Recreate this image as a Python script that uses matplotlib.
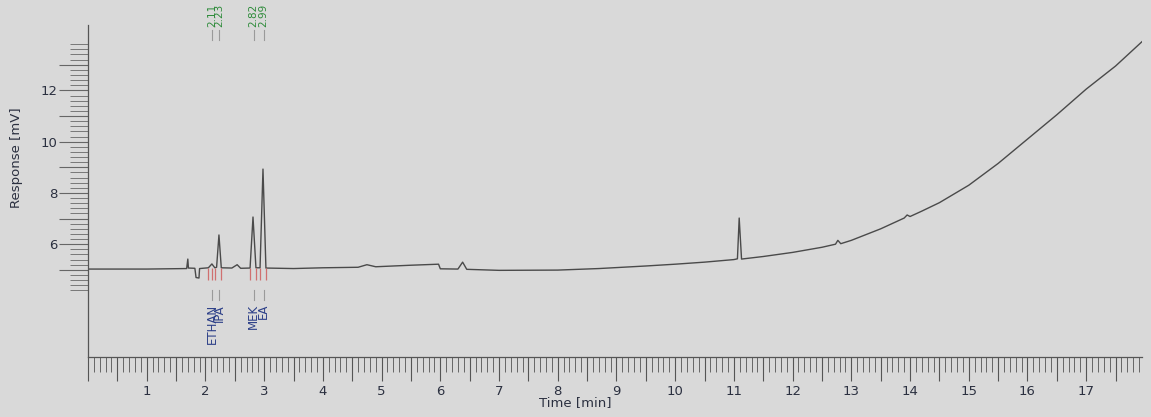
import numpy as np
import matplotlib
matplotlib.use("Agg")
import matplotlib.pyplot as plt
from matplotlib.ticker import FixedLocator, MultipleLocator

# chromatogram trace (time in min, response in mV)
time_min = [0.0, 1.0, 1.68, 1.70, 1.71, 1.82, 1.84, 1.89, 1.90, 2.05, 2.11, 2.16,
            2.19, 2.23, 2.27, 2.45, 2.54, 2.60, 2.76, 2.81, 2.86, 2.93, 2.98, 3.03,
            3.5, 4.0, 4.6, 4.75, 4.9, 5.5, 5.97, 6.0, 6.3, 6.38, 6.45, 7.0, 8.0,
            8.7, 9.5, 10.0, 10.5, 11.0, 11.06, 11.09, 11.13, 11.5, 12.0, 12.5,
            12.73, 12.77, 12.82, 13.0, 13.5, 13.9, 13.95, 14.0, 14.2, 14.5, 15.0,
            15.5, 16.0, 16.5, 17.0, 17.5, 17.95]
response_mv = [5.03, 5.03, 5.05, 5.42, 5.07, 5.06, 4.70, 4.68, 5.05, 5.08, 5.23, 5.08,
               5.10, 6.36, 5.08, 5.07, 5.20, 5.06, 5.07, 7.06, 5.08, 5.08, 8.93, 5.07,
               5.05, 5.08, 5.10, 5.20, 5.12, 5.18, 5.22, 5.04, 5.03, 5.30, 5.02, 4.98, 4.99,
               5.05, 5.15, 5.22, 5.30, 5.40, 5.43, 7.02, 5.42, 5.52, 5.68, 5.88,
               6.00, 6.15, 6.02, 6.15, 6.60, 7.02, 7.14, 7.08, 7.29, 7.62, 8.30,
               9.15, 10.10, 11.05, 12.05, 12.95, 13.90]

# integrated peaks
peak_rt = [2.11, 2.23, 2.82, 2.99]
peak_rt_labels = ["2.11", "2.23", "2.82", "2.99"]
peak_names = ["ETHAN", "IPA", "MEK", "EA"]
peak_bounds = [2.05, 2.12, 2.17, 2.26, 2.76, 2.86, 2.93, 3.03]

bg = "#d9d9d9"
txt = "#2b3040"

fig = plt.figure(figsize=(11.51, 4.17), dpi=100, facecolor=bg)
ax = fig.add_axes([88 / 1151, 60 / 417, 1054 / 1151, 332 / 417], facecolor=bg)

ax.plot(time_min, response_mv, color="#4a4a4a", lw=1.0)

# peak start/end markers
ax.vlines(peak_bounds, 4.62, 5.06, color="#d07070", lw=0.9)

xt = ax.get_xaxis_transform()
for rt, lab, name in zip(peak_rt, peak_rt_labels, peak_names):
    ax.text(rt, 1.065, lab, rotation=90, ha="center", va="top", fontsize=7.5,
            color="#2e8b3a", transform=xt, clip_on=False)
    ax.plot([rt, rt], [0.955, 0.985], color="#9a9a9a", lw=0.8, transform=xt, clip_on=False)
    ax.plot([rt, rt], [0.172, 0.202], color="#9a9a9a", lw=0.8, transform=xt)
    ax.text(rt, 0.160, name, rotation=90, ha="center", va="top", fontsize=8.5,
            color="#2c3f88", transform=xt)

ax.set_xlim(0, 17.95)
ax.set_ylim(1.6, 14.55)

for s in ["top", "right"]:
    ax.spines[s].set_visible(False)
for s in ["left", "bottom"]:
    ax.spines[s].set_color("#555555")
    ax.spines[s].set_linewidth(0.9)

# x ticks: labels on whole minutes, long ticks every 0.5, short every 0.1
ax.xaxis.set_major_locator(MultipleLocator(0.5))
ax.xaxis.set_minor_locator(MultipleLocator(0.1))
ax.xaxis.set_major_formatter(lambda v, p: f"{v:.0f}" if abs(v - round(v)) < 1e-6 and v > 0 else "")
ax.tick_params(axis="x", which="major", length=17, width=0.8, color="#555555",
               labelsize=9.5, labelcolor=txt, pad=3)
ax.tick_params(axis="x", which="minor", length=11, width=0.7, color="#666666")

# y ticks: long at whole mV, short every 0.2, labels on even values
ymaj = list(range(5, 14))
ymin = [round(4.2 + 0.2 * i, 1) for i in range(49)]
ax.yaxis.set_major_locator(FixedLocator(ymaj))
ax.yaxis.set_minor_locator(FixedLocator([v for v in ymin if abs(v - round(v)) > 1e-6]))
ax.set_yticklabels([str(v) if v % 2 == 0 else "" for v in ymaj])
ax.tick_params(axis="y", which="major", length=21, width=0.8, color="#666666",
               labelsize=9.5, labelcolor=txt, pad=1)
ax.tick_params(axis="y", which="minor", length=13, width=0.7, color="#777777")

ax.set_xlabel("Time [min]", fontsize=9.5, color=txt)
ax.set_ylabel("Response [mV]", fontsize=9.5, color=txt)
ax.xaxis.set_label_coords(0.462, -0.118)
ax.yaxis.set_label_coords(-0.062, 0.6)

fig.savefig("out.png", dpi=100, facecolor=bg)
